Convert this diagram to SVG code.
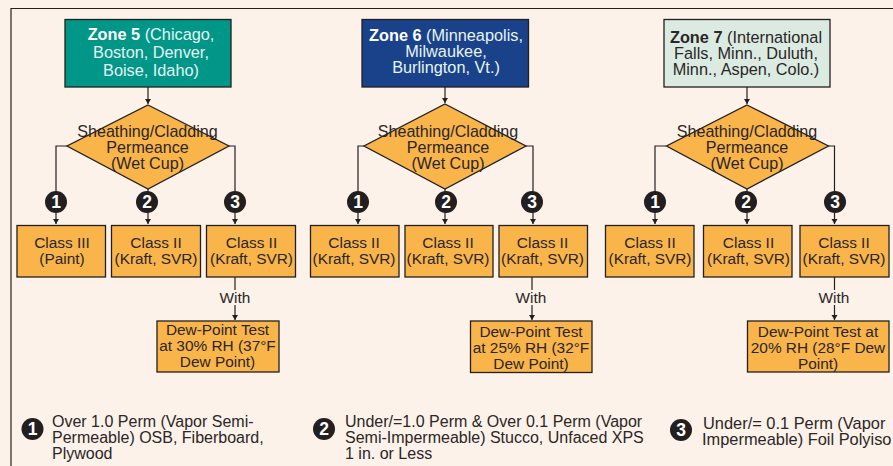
<svg xmlns="http://www.w3.org/2000/svg" width="893" height="466" viewBox="0 0 893 466">
<style>
text{font-family:"Liberation Sans",Arial,sans-serif;font-size:16.1px;fill:#2b2627;text-anchor:middle}
.n{stroke:#231f20;stroke-width:1.3}
.o{fill:#f9b44a}
.c{fill:none;stroke:#231f20;stroke-width:1.2}
.b{fill:#231f20}
text.w{fill:#fff;font-weight:bold;font-size:17.5px}
text.l{text-anchor:start;font-size:16px}
g[id^=legend3] text.l{font-size:16.4px}
g[id^=class] text,g[id^=dew] text,text.s{font-size:15.4px}
g[id^=zone] text{font-size:16.3px}
.lt{fill:#e6f4f1}
.bd{font-weight:bold}
</style>
<defs>
<marker id="a" markerWidth="7" markerHeight="7" refX="5" refY="3" orient="auto" markerUnits="userSpaceOnUse"><path d="M0 0L5 3L0 6Z" fill="#231f20"/></marker>
</defs>
<rect width="893" height="466" fill="#fcf2e9"/>
<path d="M893 8.500H11V466" fill="none" stroke="#231f20" stroke-width="1.2"/>
<g id="connectors">
<path class="c" marker-end="url(#a)" d="M148 87V104"/>
<path class="c" marker-end="url(#a)" d="M67 146H56V224"/>
<path class="c" marker-end="url(#a)" d="M148 189V224"/>
<path class="c" marker-end="url(#a)" d="M229 146H235V224"/>
<path class="c" d="M235 277V290"/>
<path class="c" marker-end="url(#a)" d="M235 305V320"/>
<path class="c" marker-end="url(#a)" d="M445 87V103"/>
<path class="c" marker-end="url(#a)" d="M364 146H358V224"/>
<path class="c" marker-end="url(#a)" d="M445 189V224"/>
<path class="c" marker-end="url(#a)" d="M526 146H533V224"/>
<path class="c" d="M532 277V290"/>
<path class="c" marker-end="url(#a)" d="M532 305V320"/>
<path class="c" marker-end="url(#a)" d="M747 87V104"/>
<path class="c" marker-end="url(#a)" d="M666 146H655V224"/>
<path class="c" marker-end="url(#a)" d="M747 189V224"/>
<path class="c" marker-end="url(#a)" d="M828 146H834.500V224"/>
<path class="c" d="M834.500 277V290"/>
<path class="c" marker-end="url(#a)" d="M834.500 305V320"/>
</g>
<g id="zone5">
<rect class="n" x="65" y="19.500" width="166" height="67.500" fill="#009688"/>
<text x="151" y="40" class="lt"><tspan class="bd" fill="#fff">Zone 5</tspan> (Chicago,</text>
<text x="151" y="58" class="lt">Boston, Denver,</text>
<text x="151" y="76" class="lt">Boise, Idaho)</text>
</g>
<g id="decision5">
<path class="n o" d="M148 105L229 146L148 189L67 146Z"/>
<text x="147.500" y="136.500">Sheathing/Cladding</text><text x="147.500" y="152.500">Permeance</text><text x="147.500" y="168.500">(Wet Cup)</text>
</g>
<g id="badge5-1"><circle class="b" cx="56" cy="202" r="11"/><text class="w" x="56" y="208">1</text></g>
<g id="badge5-2"><circle class="b" cx="147" cy="202" r="11"/><text class="w" x="147" y="208">2</text></g>
<g id="badge5-3"><circle class="b" cx="235" cy="202" r="11"/><text class="w" x="235" y="208">3</text></g>
<g id="class5-1"><rect class="n o" x="17" y="225.500" width="88.500" height="51.500"/><text x="62" y="248">Class III</text><text x="62" y="264">(Paint)</text></g>
<g id="class5-2"><rect class="n o" x="111.500" y="225.500" width="89" height="51.500"/><text x="156" y="248">Class II</text><text x="156" y="264">(Kraft, SVR)</text></g>
<g id="class5-3"><rect class="n o" x="206.500" y="225.500" width="89" height="51.500"/><text x="251.500" y="248">Class II</text><text x="251.500" y="264">(Kraft, SVR)</text></g>
<text class="s" x="235" y="303">With</text>
<g id="dew5"><rect class="n o" x="157" y="321" width="122" height="51"/><text x="217.500" y="335">Dew-Point Test</text><text x="217.500" y="351">at 30% RH (37°F</text><text x="217.500" y="367">Dew Point)</text></g>

<g id="zone6">
<rect class="n" x="362" y="19.500" width="166.500" height="67.500" fill="#1a428a"/>
<text x="446" y="41" class="lt"><tspan class="bd" fill="#fff">Zone 6</tspan> (Minneapolis,</text>
<text x="446" y="57" class="lt">Milwaukee,</text>
<text x="446" y="73" class="lt">Burlington, Vt.)</text>
</g>
<g id="decision6">
<path class="n o" d="M445 104L526 146L445 189L364 146Z"/>
<text x="448" y="136.500">Sheathing/Cladding</text><text x="448" y="152.500">Permeance</text><text x="448" y="168.500">(Wet Cup)</text>
</g>
<g id="badge6-1"><circle class="b" cx="358" cy="202" r="11"/><text class="w" x="358" y="208">1</text></g>
<g id="badge6-2"><circle class="b" cx="446" cy="202" r="11"/><text class="w" x="446" y="208">2</text></g>
<g id="badge6-3"><circle class="b" cx="532" cy="202" r="11"/><text class="w" x="532" y="208">3</text></g>
<g id="class6-1"><rect class="n o" x="310.500" y="225.500" width="88.500" height="51.500"/><text x="354" y="248">Class II</text><text x="354" y="264">(Kraft, SVR)</text></g>
<g id="class6-2"><rect class="n o" x="405" y="225.500" width="88" height="51.500"/><text x="448" y="248">Class II</text><text x="448" y="264">(Kraft, SVR)</text></g>
<g id="class6-3"><rect class="n o" x="499" y="225.500" width="88.500" height="51.500"/><text x="542.500" y="248">Class II</text><text x="542.500" y="264">(Kraft, SVR)</text></g>
<text class="s" x="531" y="303">With</text>
<g id="dew6"><rect class="n o" x="470.500" y="321" width="121.500" height="51.500"/><text x="531" y="337">Dew-Point Test</text><text x="531" y="353">at 25% RH (32°F</text><text x="531" y="369">Dew Point)</text></g>

<g id="zone7">
<rect class="n" x="664" y="19.500" width="166" height="67.500" fill="#dcebe1"/>
<text x="746" y="43"><tspan class="bd">Zone 7</tspan> (International</text>
<text x="746" y="59">Falls, Minn., Duluth,</text>
<text x="746" y="75">Minn., Aspen, Colo.)</text>
</g>
<g id="decision7">
<path class="n o" d="M747 105L828.500 146L747 189L666.500 146Z"/>
<text x="747" y="136.500">Sheathing/Cladding</text><text x="747" y="152.500">Permeance</text><text x="747" y="168.500">(Wet Cup)</text>
</g>
<g id="badge7-1"><circle class="b" cx="655" cy="202" r="11"/><text class="w" x="655" y="208">1</text></g>
<g id="badge7-2"><circle class="b" cx="746" cy="202" r="11"/><text class="w" x="746" y="208">2</text></g>
<g id="badge7-3"><circle class="b" cx="835" cy="202" r="11"/><text class="w" x="835" y="208">3</text></g>
<g id="class7-1"><rect class="n o" x="605.500" y="225.500" width="88.500" height="51.500"/><text x="650" y="248">Class II</text><text x="650" y="264">(Kraft, SVR)</text></g>
<g id="class7-2"><rect class="n o" x="703.500" y="225.500" width="88.500" height="51.500"/><text x="748.500" y="248">Class II</text><text x="748.500" y="264">(Kraft, SVR)</text></g>
<g id="class7-3"><rect class="n o" x="800" y="225.500" width="89" height="51.500"/><text x="844" y="248">Class II</text><text x="844" y="264">(Kraft, SVR)</text></g>
<text class="s" x="834" y="303">With</text>
<g id="dew7"><rect class="n o" x="747.500" y="321" width="141.500" height="51"/><text x="818" y="337">Dew-Point Test at</text><text x="818" y="353">20% RH (28°F Dew</text><text x="818" y="369">Point)</text></g>

<g id="legend1"><circle class="b" cx="32.500" cy="429" r="11"/><text class="w" x="32.500" y="435">1</text>
<text class="l" x="52" y="427">Over 1.0 Perm (Vapor Semi-</text><text class="l" x="52" y="443">Permeable) OSB, Fiberboard,</text><text class="l" x="52" y="459">Plywood</text></g>
<g id="legend2"><circle class="b" cx="324" cy="429" r="11"/><text class="w" x="324" y="435">2</text>
<text class="l" x="345" y="427">Under/=1.0 Perm &amp; Over 0.1 Perm (Vapor</text><text class="l" x="345" y="443">Semi-Impermeable) Stucco, Unfaced XPS</text><text class="l" x="345" y="459">1 in. or Less</text></g>
<g id="legend3"><circle class="b" cx="681" cy="430" r="11"/><text class="w" x="681" y="436">3</text>
<text class="l" x="703" y="429">Under/= 0.1 Perm (Vapor</text><text class="l" x="702" y="445">Impermeable) Foil Polyiso</text></g>
</svg>
